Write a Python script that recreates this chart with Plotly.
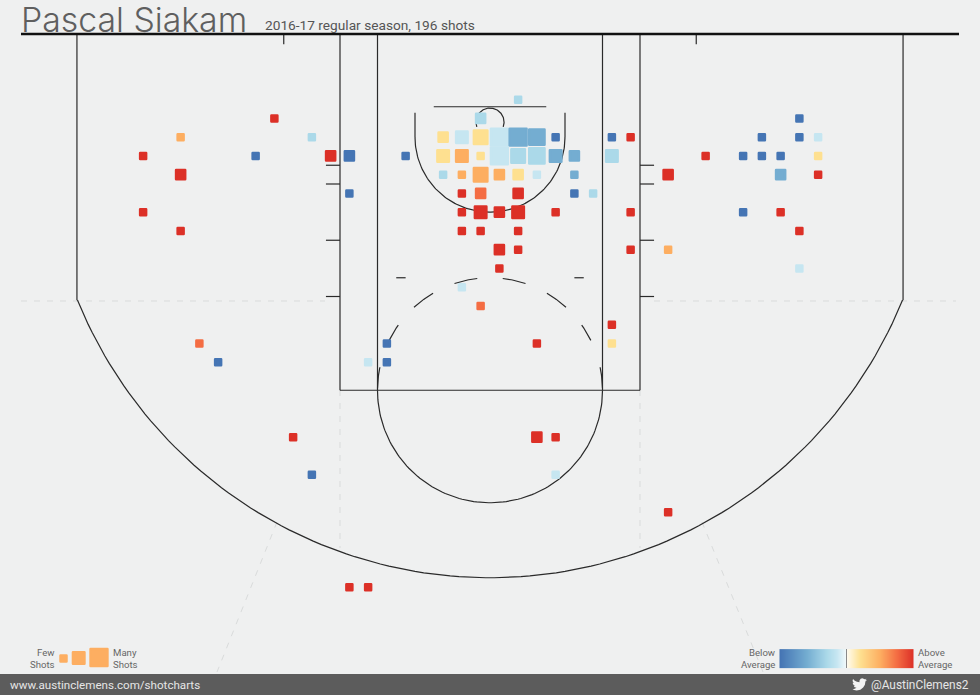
import numpy as np
import plotly.graph_objects as go
from plotly.colors import sample_colorscale

WIDTH = 980
HEIGHT = 695
PX_PER_FT = 18.75
CENTER_PX = 490
BASELINE_PX = 34

# Colour codes (shot % against league average)
DARK, MID, LIGHT, PALE = -1.0, -0.6, -0.3, -0.15
YELLOW, ORANGE, HOT, RED = 0.2, 0.5, 0.75, 1.0

# Shot bins, feet from the centre of the rim line and feet from the baseline
shot_x = [
    1.5, -11.5, -0.5, 16.5,
    -16.5, -9.5, -2.5, -1.5, -0.5, 0.5, 1.5, 2.5, 3.5, 6.5, 7.5, 14.5, 16.5, 17.5,
    -18.5, -12.5, -8.5, -7.5, -4.5, -2.5, -1.5, -0.5, 0.5, 1.5, 2.5, 3.5, 4.5, 6.5, 11.5, 13.5, 14.5, 15.5, 17.5,
    -16.5, -2.5, -1.5, -0.5, 0.5, 1.5, 2.5, 4.5, 9.5, 15.5, 17.5,
    -7.5, -1.5, -0.5, 1.5, 4.5, 5.5,
    -18.5, -1.5, -0.5, 0.5, 1.5, 3.5, 7.5, 13.5, 15.5,
    -16.5, -1.5, -0.5, 1.5, 16.5,
    0.5, 1.5, 7.5, 9.5,
    0.5, 16.5,
    -1.5,
    -0.5,
    6.5,
    -15.5, -5.5, 2.5, 6.5,
    -14.5, -6.5, -5.5,
    -10.5, 2.5, 3.5,
    -9.5, 3.5,
    9.5,
    -7.5, -6.5,
]
shot_y = [
    3.5, 4.5, 4.5, 4.5,
    5.5, 5.5, 5.5, 5.5, 5.5, 5.5, 5.5, 5.5, 5.5, 5.5, 5.5, 5.5, 5.5, 5.5,
    6.5, 6.5, 6.5, 6.5, 6.5, 6.5, 6.5, 6.5, 6.5, 6.5, 6.5, 6.5, 6.5, 6.5, 6.5, 6.5, 6.5, 6.5, 6.5,
    7.5, 7.5, 7.5, 7.5, 7.5, 7.5, 7.5, 7.5, 7.5, 7.5, 7.5,
    8.5, 8.5, 8.5, 8.5, 8.5, 8.5,
    9.5, 9.5, 9.5, 9.5, 9.5, 9.5, 9.5, 9.5, 9.5,
    10.5, 10.5, 10.5, 10.5, 10.5,
    11.5, 11.5, 11.5, 11.5,
    12.5, 12.5,
    13.5,
    14.5,
    15.5,
    16.5, 16.5, 16.5, 16.5,
    17.5, 17.5, 17.5,
    21.5, 21.5, 21.5,
    23.5, 23.5,
    25.5,
    29.5, 29.5,
]
bin_size = [
    1, 1, 2, 1,
    1, 1, 2, 3, 4, 6, 6, 5, 1, 1, 1, 1, 1, 1,
    1, 1, 2, 2, 1, 3, 3, 1, 6, 4, 5, 3, 2, 3, 1, 1, 1, 1, 1,
    2, 1, 1, 4, 2, 2, 1, 1, 2, 2, 1,
    1, 1, 2, 2, 1, 1,
    1, 1, 3, 2, 3, 1, 1, 1, 1,
    1, 1, 1, 1, 1,
    2, 1, 1, 1,
    1, 1,
    1,
    1,
    1,
    1, 1, 1, 1,
    1, 1, 1,
    1, 2, 1,
    1, 1,
    1,
    1, 1,
]
shot_diff = [
    LIGHT, RED, LIGHT, DARK,
    ORANGE, LIGHT, YELLOW, PALE, YELLOW, PALE, MID, MID, DARK, DARK, RED, DARK, DARK, PALE,
    RED, DARK, RED, DARK, DARK, YELLOW, ORANGE, YELLOW, PALE, LIGHT, LIGHT, MID, MID, LIGHT, RED, DARK, DARK, DARK, YELLOW,
    RED, LIGHT, ORANGE, ORANGE, ORANGE, YELLOW, PALE, MID, RED, MID, RED,
    DARK, RED, HOT, RED, DARK, LIGHT,
    RED, RED, RED, RED, RED, RED, RED, DARK, RED,
    RED, RED, RED, RED, RED,
    RED, RED, RED, ORANGE,
    RED, PALE,
    PALE,
    HOT,
    RED,
    HOT, DARK, RED, YELLOW,
    DARK, PALE, DARK,
    RED, RED, RED,
    DARK, PALE,
    RED,
    RED, RED,
]

legend_sizes = [1, 3, 6]

BG = "#eff0f0"
INK = "#2a2a2a"
GUIDE = "#d9dbdb"
TEXT = "#666666"
BAR = "#5c5c5c"

DIFF_SCALE = [
    [0.0, "#4575b4"], [0.2, "#74add1"], [0.35, "#abd9e9"], [0.425, "#c6e6f1"],
    [0.499, "#f6fbfc"], [0.501, "#fffbef"], [0.6, "#fee090"], [0.75, "#fdae61"],
    [0.875, "#f46d43"], [1.0, "#dc3027"],
]

EDGE = 2.5  # marker outline, joined round so the squares get soft corners


def ft_x(px):
    return (px - CENTER_PX) / PX_PER_FT


def ft_y(px):
    return (px - BASELINE_PX) / PX_PER_FT


def marker_px(size):
    return 7.5 * np.sqrt(size) - 1.5


def arc(cx, cy, r, start, end, n=120):
    # angles in degrees, 0 = +x, 90 = towards the half court line
    t = np.radians(np.linspace(start, end, n))
    return list(cx + r * np.cos(t)) + [None], list(cy + r * np.sin(t)) + [None]


def edge_colors(values):
    return sample_colorscale(DIFF_SCALE, [(v + 1) / 2 for v in values], colortype="rgb")


# Court lines, all in feet
lx, ly = [], []


def seg(x0, y0, x1, y1):
    lx.extend([x0, x1, None])
    ly.extend([y0, y1, None])


def add_arc(*args):
    ax, ay = arc(*args)
    lx.extend(ax)
    ly.extend(ay)


for side in (-1, 1):
    seg(side * 22.03, 0, side * 22.03, 14.2)        # corner three
    seg(side * 8, 0, side * 8, 19)                  # outer lane
    seg(side * 6, 0, side * 6, 19)                  # inner lane
    seg(side * 11, 0, side * 11, 0.55)              # baseline ticks
    seg(side * 4, 4.2, side * 4, 5.5)               # restricted area sides
    seg(side * 5.0, 13.0, side * 4.5, 13.0)         # inner lane ticks
    for tick in (7.0, 8.0, 11.0, 14.0):
        seg(side * 8, tick, side * 8.75, tick)

seg(-8, 19, 8, 19)
seg(-3, 3.88, 3, 3.88)
ang = np.degrees(np.arctan2(14.2 - 5.25, 22.03))
add_arc(0, 5.25, 23.75, ang, 180 - ang)             # three point line
add_arc(0, 5.5, 4, 0, 180)                          # restricted area
add_arc(0, 4.7, 0.75, -200, 20)                     # rim
add_arc(0, 19, 6, 0, 180)                           # free throw circle, lower half
for a0, a1 in [(1, 11.8), (26.3, 35.4), (47.5, 59.6), (71.6, 83.5)]:
    add_arc(0, 19, 6, 180 + a0, 180 + a1, 20)
    add_arc(0, 19, 6, -a0, -a1, 20)

gx, gy = [], []
for a, b in [(21, 325), (654, 956)]:
    gx.extend([ft_x(a), ft_x(b), None])
    gy.extend([ft_y(301), ft_y(301), None])
for px0, py0, px1, py1 in [
    (340, 390, 340, 548), (640, 390, 640, 548),
    (277, 522, 217, 672), (702, 522, 763, 672),
]:
    gx.extend([ft_x(px0), ft_x(px1), None])
    gy.extend([ft_y(py0), ft_y(py1), None])

fig = go.Figure()

fig.add_trace(go.Scatter(x=gx, y=gy, mode="lines", hoverinfo="skip",
                         line=dict(color=GUIDE, width=1, dash="6px,7px")))
fig.add_trace(go.Scatter(x=lx, y=ly, mode="lines", hoverinfo="skip",
                         line=dict(color=INK, width=1.2)))
fig.add_trace(go.Scatter(x=[ft_x(21), ft_x(959)], y=[0, 0], mode="lines", hoverinfo="skip",
                         line=dict(color="#111111", width=2.4)))

fig.add_trace(go.Scatter(
    x=shot_x, y=shot_y, mode="markers",
    marker=dict(
        symbol="square", opacity=1,
        size=[marker_px(s) for s in bin_size],
        color=shot_diff, colorscale=DIFF_SCALE, cmin=-1, cmax=1,
        line=dict(width=EDGE, color=edge_colors(shot_diff)),
    ),
))

# Size legend
fig.add_trace(go.Scatter(
    x=[ft_x(63.5), ft_x(78.7), ft_x(99)],
    y=[ft_y(658.5), ft_y(658), ft_y(657.5)],
    mode="markers", hoverinfo="skip",
    marker=dict(symbol="square", opacity=1, size=[marker_px(s) for s in legend_sizes],
                color="#fdae61", line=dict(width=EDGE, color="#fdae61")),
))

# Colour legend ramp
ramp = np.linspace(-1, 1, 134)
fig.add_trace(go.Heatmap(
    x=np.linspace(ft_x(780), ft_x(913), 134), y=[ft_y(658.5)], dy=19 / PX_PER_FT,
    z=[ramp], colorscale=DIFF_SCALE, zmin=-1, zmax=1,
    showscale=False, hoverinfo="skip",
))
fig.add_trace(go.Scatter(x=[ft_x(846.5), ft_x(846.5)], y=[ft_y(649), ft_y(668)],
                         mode="lines", hoverinfo="skip",
                         line=dict(color="#8a8a8a", width=1)))

# Twitter bird outline on a 24 unit box
bird = [
    (23.95, 4.57), (21.13, 5.35), (23.29, 2.62), (20.16, 3.81), (18.6, 2.7), (16.57, 2.2),
    (14.0, 3.0), (12.3, 5.2), (12.0, 7.0), (12.1, 8.3), (8.0, 7.8), (4.5, 6.0), (1.64, 3.16),
    (0.97, 5.64), (1.5, 7.9), (3.16, 9.73), (0.93, 9.12), (0.93, 9.18), (1.9, 12.2), (4.88, 14.0),
    (2.67, 14.08), (4.3, 16.6), (7.27, 17.5), (4.4, 19.1), (1.17, 19.6), (0.0, 19.54), (3.5, 21.0),
    (7.56, 21.75), (13.5, 20.6), (18.0, 17.0), (20.8, 12.5), (21.55, 7.77), (21.54, 7.14), (23.0, 6.0),
]
bird_path = "M" + " L".join(
    f"{(852 + bx * 0.62) / WIDTH:.5f},{1 - (677 + by * 0.62) / HEIGHT:.5f}" for bx, by in bird
) + " Z"

fig.update_layout(
    width=WIDTH, height=HEIGHT,
    margin=dict(l=0, r=0, t=0, b=0),
    paper_bgcolor=BG, plot_bgcolor=BG,
    showlegend=False,
    xaxis=dict(visible=False, range=[ft_x(0), ft_x(WIDTH)], fixedrange=True),
    yaxis=dict(visible=False, range=[ft_y(HEIGHT), ft_y(0)], fixedrange=True),
    shapes=[
        dict(type="rect", xref="paper", yref="paper", x0=0, x1=1, y0=0, y1=21 / HEIGHT,
             fillcolor=BAR, line_width=0),
        dict(type="path", xref="paper", yref="paper", path=bird_path,
             fillcolor="#f2f2f2", line_width=0),
    ],
)


def label(px, py, text, size, color=TEXT, anchor="left", family="Roboto", weight=None):
    fig.add_annotation(
        x=px / WIDTH, y=1 - py / HEIGHT, xref="paper", yref="paper",
        text=text, showarrow=False, xanchor=anchor, yanchor="middle", align=anchor,
        font=dict(family=family, size=size, color=color, weight=weight),
        borderpad=0, borderwidth=0,
    )


label(21, 19, "Pascal Siakam", 33.8, color="#5f5f5f", family="Inter", weight=300)
label(265, 25, "2016-17 regular season, 196 shots", 13.7, color="#555555")
label(54.5, 652.5, "Few", 9.6, anchor="right")
label(54.5, 664.5, "Shots", 9.6, anchor="right")
label(113, 652.5, "Many", 9.6)
label(113, 664.5, "Shots", 9.6)
label(775, 652.5, "Below", 9.6, anchor="right")
label(775, 664.5, "Average", 9.6, anchor="right")
label(918, 652.5, "Above", 9.6)
label(918, 664.5, "Average", 9.6)
label(10, 684.5, "www.austinclemens.com/shotcharts", 11.6, color="#e6e6e6")
label(969, 684.5, "@AustinClemens2", 11.9, color="#e6e6e6", anchor="right")

fig.write_html(
    "out.html",
    post_script="document.body.style.margin='0';"
                "document.head.insertAdjacentHTML('beforeend','<style>.point{stroke-linejoin:round}</style>');",
    config=dict(displayModeBar=False),
)
